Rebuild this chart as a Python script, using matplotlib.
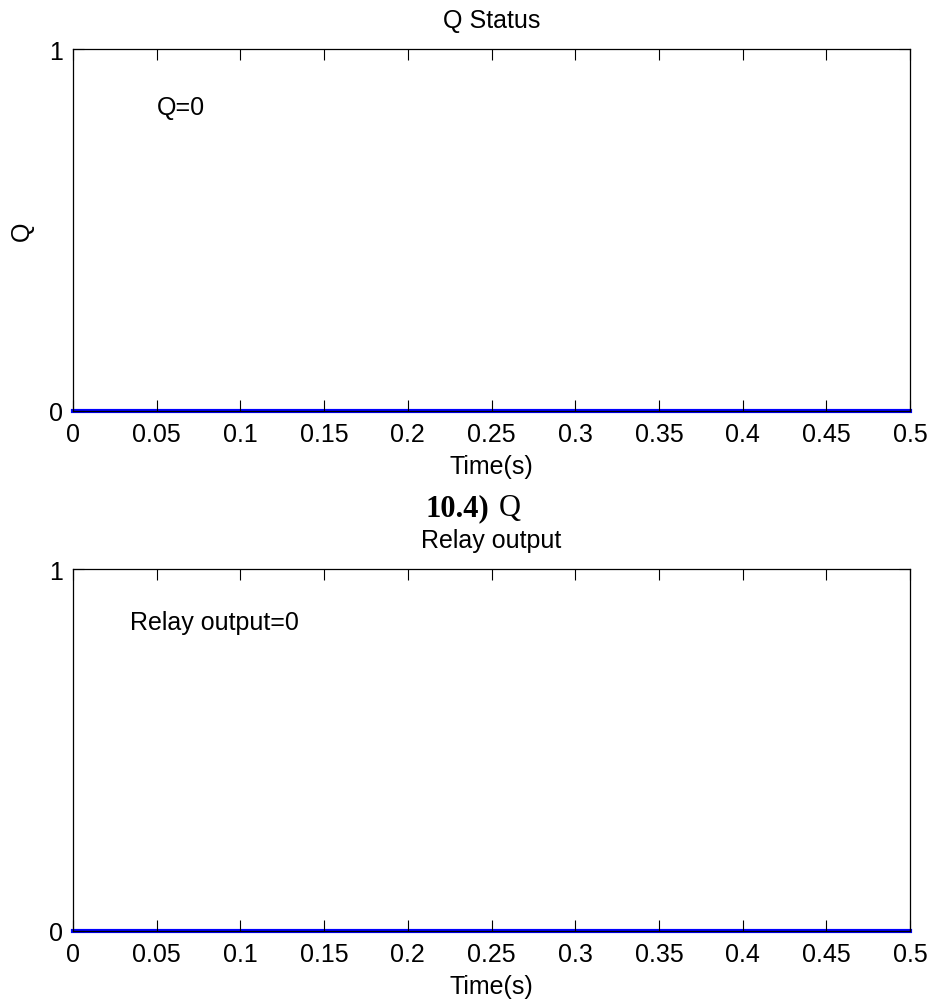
import matplotlib
matplotlib.use("Agg")
import matplotlib.pyplot as plt

# Data
time = [0.0, 0.5]
q_status = [0, 0]
relay_output = [0, 0]
xticks = [0, 0.05, 0.1, 0.15, 0.2, 0.25, 0.3, 0.35, 0.4, 0.45, 0.5]
xtick_labels = ["0", "0.05", "0.1", "0.15", "0.2", "0.25", "0.3", "0.35", "0.4", "0.45", "0.5"]
yticks = [0, 1]

plt.rcParams['font.family'] = ['Liberation Sans', 'DejaVu Sans']

W, H = 932, 1003
fig = plt.figure(figsize=(W / 100, H / 100), dpi=100)

def px_axes(left, top, right, bottom):
    return fig.add_axes([left / W, 1 - bottom / H, (right - left) / W, (bottom - top) / H])

def style(ax, title, ylabel=None):
    ax.set_xlim(0, 0.5)
    ax.set_ylim(0, 1)
    ax.set_xticks(xticks)
    ax.set_xticklabels(xtick_labels)
    ax.set_yticks(yticks)
    ax.tick_params(axis='both', direction='in', length=8, width=0.8,
                   top=True, right=True, labelsize=18, colors='black')
    ax.tick_params(axis='x', pad=8)
    ax.tick_params(axis='y', pad=7)
    for s in ax.spines.values():
        s.set_linewidth(0.9)
        s.set_color('black')
    ax.set_title(title, fontsize=18, pad=16)
    ax.set_xlabel("Time(s)", fontsize=18, labelpad=6)
    if ylabel:
        ax.set_ylabel(ylabel, fontsize=18, labelpad=11)

ax1 = px_axes(73, 50, 910, 412)
ax1.plot(time, q_status, color='#0000ff', linewidth=3, clip_on=False, zorder=1)
style(ax1, "Q Status", "Q")
ax1.text(0.05, 0.84, "Q=0", fontsize=18, ha='left', va='center')

ax2 = px_axes(73, 570, 910, 932)
ax2.plot(time, relay_output, color='#0000ff', linewidth=3, clip_on=False, zorder=1)
style(ax2, "Relay output")
ax2.text(0.034, 0.854, "Relay output=0", fontsize=18, ha='left', va='center')

fig.text(425 / W, 1 - 516 / H, "10.4)", fontsize=22, fontweight='bold',
         family='Liberation Serif', ha='left', va='baseline')
fig.text(499 / W, 1 - 516 / H, "Q", fontsize=22,
         family='Liberation Serif', ha='left', va='baseline')

fig.savefig("out.png", dpi=100, facecolor='white')
